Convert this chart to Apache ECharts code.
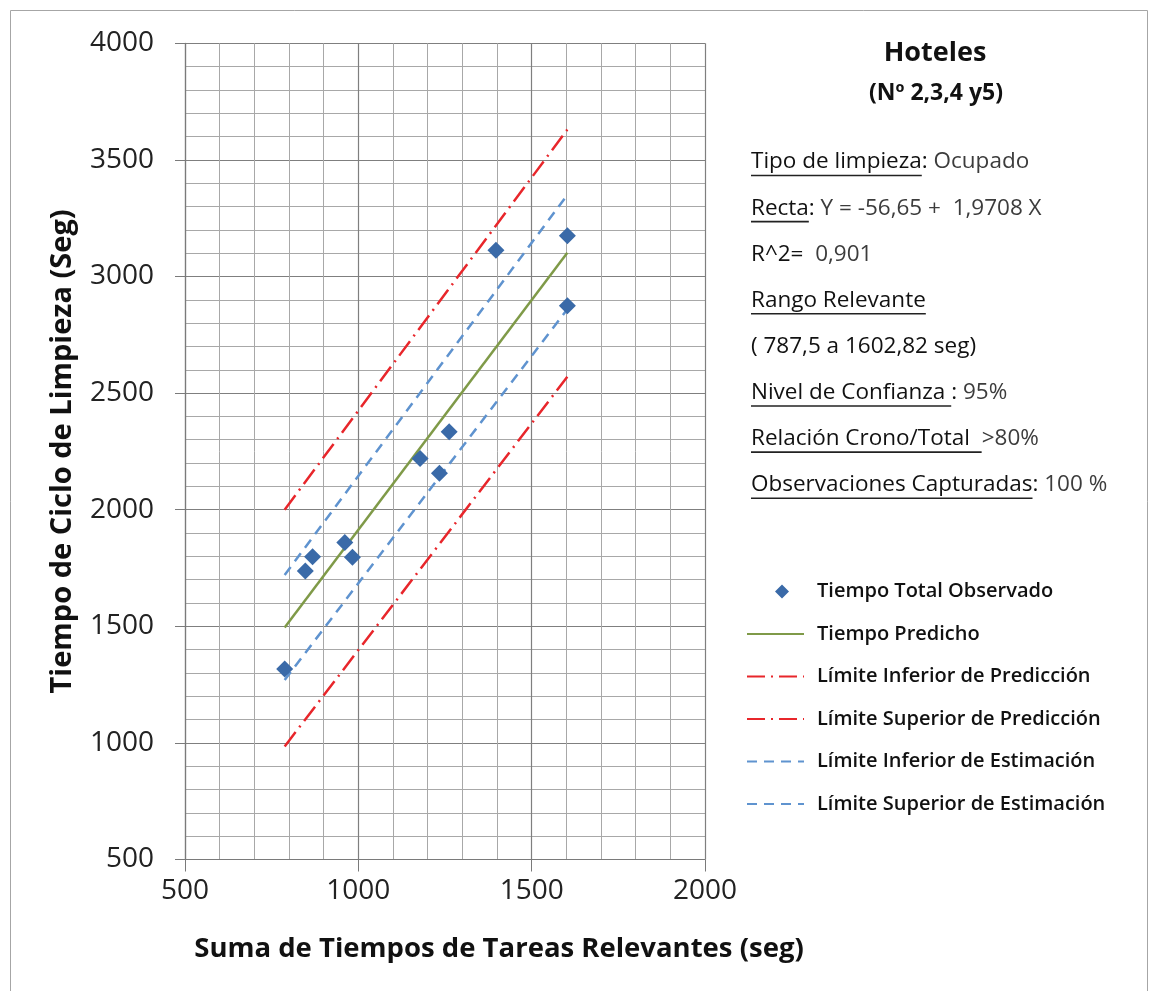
<!DOCTYPE html>
<html>
<head>
<meta charset="utf-8">
<script src="https://cdn.jsdelivr.net/npm/echarts@6/dist/echarts.min.js"></script>
<style>
html,body{margin:0;padding:0;background:#fff;}
#chart{width:1150px;height:991px;}
</style>
</head>
<body>
<div id="chart"></div>
<script>
// ---------- data ----------
const obsX = [787.5, 847, 868, 961, 983, 1178, 1234, 1262, 1397, 1603, 1603];
const obsY = [1317, 1737, 1798, 1859, 1796, 2220, 2156, 2334, 3113, 3175, 2875];
const rangeX = [787.5, 1602.82];
const predY = [1495, 3102];
const predLowY = [985, 2570];
const predHighY = [2000, 3630];
const estLowY = [1270, 2860];
const estHighY = [1720, 3350];
const xTicks = [500, 1000, 1500, 2000];
const yTicks = [500, 1000, 1500, 2000, 2500, 3000, 3500, 4000];
const seriesNames = [
  'Tiempo Total Observado',
  'Tiempo Predicho',
  'Límite Inferior de Predicción',
  'Límite Superior de Predicción',
  'Límite Inferior de Estimación',
  'Límite Superior de Estimación'
];
const titleLines = ['Hoteles', '(Nº 2,3,4 y5)'];
const infoRows = [
  {label: 'Tipo de limpieza', sep: ': ', value: 'Ocupado'},
  {label: 'Recta', sep: ': ', value: 'Y = -56,65 +  1,9708 X'},
  {label: '', sep: 'R^2=  ', value: '0,901'},
  {label: 'Rango Relevante', sep: '', value: ''},
  {label: '', sep: '( 787,5 a 1602,82 seg)', value: ''},
  {label: 'Nivel de Confianza ', sep: ': ', value: '95%'},
  {label: 'Relación Crono/Total  ', sep: '', value: '>80%'},
  {label: 'Observaciones Capturadas', sep: ': ', value: '100 %'}
];
const xTitle = 'Suma de Tiempos de Tareas Relevantes (seg)';
const yTitle = 'Tiempo de Ciclo de Limpieza (Seg)';

// ---------- styles ----------
const FONT = '"Open Sans", "Liberation Sans", sans-serif';
const RED = '#e8262b';
const BLUE = '#5f93cf';
const GREEN = '#7f9a48';
const MARK = '#3a6aa8';

const pairs = (xs, ys) => xs.map((x, i) => [x, ys[i]]);

// measuring for underline placement
const cv = document.createElement('canvas');
const ctx = cv.getContext('2d');
function tw(text, size, weight) {
  ctx.font = (weight || 'normal') + ' ' + size + 'px ' + FONT;
  return ctx.measureText(text).width;
}

const graphics = [];
graphics.push({
  type: 'rect', silent: true,
  shape: {x: 10.5, y: 10.5, width: 1137, height: 1000},
  style: {fill: 'none', stroke: '#a6a6a6', lineWidth: 1}
});
graphics.push({
  type: 'text', x: 935, y: 53,
  style: {text: titleLines[0], fontFamily: FONT, fontSize: 27, fontWeight: 'bold', fill: '#111', align: 'center', verticalAlign: 'middle'}
});
graphics.push({
  type: 'text', x: 936, y: 93,
  style: {text: titleLines[1], fontFamily: FONT, fontSize: 23, fontWeight: 'bold', fill: '#111', align: 'center', verticalAlign: 'middle'}
});

const INFO_X = 751, INFO_Y0 = 162, INFO_DY = 46.1, INFO_FS = 22.5;
infoRows.forEach((r, i) => {
  const y = INFO_Y0 + i * INFO_DY;
  let x = INFO_X;
  if (r.label) {
    const w = tw(r.label, INFO_FS);
    graphics.push({type: 'text', x: x, y: y,
      style: {text: r.label, fontFamily: FONT, fontSize: INFO_FS, fill: '#111', align: 'left', verticalAlign: 'middle'}});
    graphics.push({type: 'line', silent: true,
      shape: {x1: x, y1: y + 13.5, x2: x + w, y2: y + 13.5},
      style: {stroke: '#222', lineWidth: 1.6}});
    x += w;
  }
  if (r.sep) {
    graphics.push({type: 'text', x: x, y: y,
      style: {text: r.sep, fontFamily: FONT, fontSize: INFO_FS, fill: '#111', align: 'left', verticalAlign: 'middle'}});
    x += tw(r.sep, INFO_FS);
  }
  if (r.value) {
    graphics.push({type: 'text', x: x, y: y,
      style: {text: r.value, fontFamily: FONT, fontSize: INFO_FS, fill: '#3c3c3c', align: 'left', verticalAlign: 'middle'}});
  }
});

const lineSeries = (name, ys, color, type, width) => ({
  name: name, type: 'line', data: pairs(rangeX, ys),
  symbol: 'none', showSymbol: false, silent: true,
  lineStyle: {color: color, width: width, type: type},
  itemStyle: {color: color},
  z: 3
});

// legend diamond placed inside the 57x14 icon box, centered at 35
const diamondIcon = 'path://M0,6.9L0.05,6.9L0.05,7.1L0,7.1Z M35,0L42,7L35,14L28,7Z M57,6.9L56.95,6.9L56.95,7.1L57,7.1Z';

const chart = echarts.init(document.getElementById('chart'), null, {renderer: 'canvas'});
chart.setOption({
  animation: false,
  backgroundColor: '#fff',
  grid: {left: 185, right: 445, top: 43.3, bottom: 131.5, containLabel: false},
  xAxis: {
    type: 'value', min: xTicks[0], max: xTicks[xTicks.length - 1], interval: 500,
    axisLine: {show: true, onZero: false, lineStyle: {color: '#7a7a7a', width: 1.2}},
    axisTick: {show: true, inside: false, length: 12, lineStyle: {color: '#7a7a7a'}},
    axisLabel: {fontFamily: FONT, fontSize: 28, color: '#222', margin: 18, formatter: v => String(v)},
    splitLine: {show: true, lineStyle: {color: '#7f7f7f', width: 1.2}},
    minorTick: {show: false, splitNumber: 5},
    minorSplitLine: {show: true, lineStyle: {color: '#a8a8a8', width: 1}},
    name: xTitle, nameLocation: 'middle', nameGap: 76,
    nameTextStyle: {fontFamily: FONT, fontSize: 27.5, fontWeight: 'bold', color: '#111', padding: [0, 0, 0, 108]}
  },
  yAxis: {
    type: 'value', min: yTicks[0], max: yTicks[yTicks.length - 1], interval: 500,
    axisLine: {show: true, onZero: false, lineStyle: {color: '#7a7a7a', width: 1.2}},
    axisTick: {show: true, inside: false, length: 10, lineStyle: {color: '#7a7a7a'}},
    axisLabel: {fontFamily: FONT, fontSize: 28, color: '#222', margin: 31, formatter: v => String(v)},
    splitLine: {show: true, lineStyle: {color: '#7f7f7f', width: 1.2}},
    minorTick: {show: false, splitNumber: 5},
    minorSplitLine: {show: true, lineStyle: {color: '#a8a8a8', width: 1}},
    name: yTitle, nameLocation: 'middle', nameGap: 108, nameRotate: 90,
    nameTextStyle: {fontFamily: FONT, fontSize: 29, fontWeight: 'bold', color: '#111'}
  },
  legend: {
    orient: 'vertical', left: 741, top: 572,
    itemWidth: 57, itemHeight: 14, itemGap: 13.5,
    symbolKeepAspect: true,
    textStyle: {fontFamily: FONT, fontSize: 20, fontWeight: 600, color: '#111', padding: [0, 0, 0, 8], lineHeight: 29},
    data: seriesNames.map((n, i) => i === 0
      ? {name: n, icon: diamondIcon}
      : {name: n, itemStyle: {opacity: 0, borderWidth: 0}}),
    selectedMode: false
  },
  graphic: graphics,
  series: [
    {
      name: seriesNames[0], type: 'scatter', data: pairs(obsX, obsY),
      symbol: 'diamond', symbolSize: 17, itemStyle: {color: MARK, opacity: 1}, z: 5
    },
    lineSeries(seriesNames[1], predY, GREEN, 'solid', 2.5),
    lineSeries(seriesNames[2], predLowY, RED, [18, 6, 2, 6], 2.5),
    lineSeries(seriesNames[3], predHighY, RED, [18, 6, 2, 6], 2.5),
    lineSeries(seriesNames[4], estLowY, BLUE, [10, 7], 2.5),
    lineSeries(seriesNames[5], estHighY, BLUE, [10, 7], 2.5)
  ]
});
</script>
</body>
</html>
